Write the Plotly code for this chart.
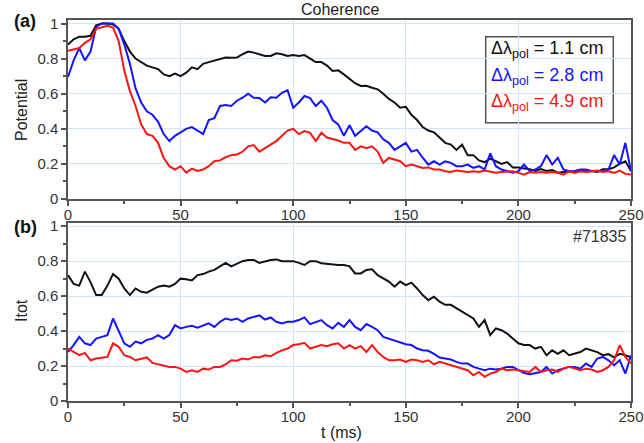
import plotly.graph_objects as go

# ---------------- data ----------------
t_ms = [i * 2.5 for i in range(101)]

pot_11 = [0.88, 0.91, 0.925, 0.925, 0.93, 0.99, 1.0, 1.0, 0.995, 0.97,
          0.90, 0.84, 0.80, 0.78, 0.76, 0.75, 0.74, 0.71, 0.70, 0.714,
          0.70, 0.72, 0.75, 0.74, 0.77, 0.78, 0.79, 0.80, 0.806, 0.805,
          0.806, 0.825, 0.84, 0.834, 0.825, 0.815, 0.815, 0.83, 0.825, 0.815,
          0.82, 0.815, 0.82, 0.80, 0.78, 0.78, 0.76, 0.73, 0.733, 0.71,
          0.685, 0.66, 0.644, 0.645, 0.634, 0.625, 0.60, 0.57, 0.55, 0.52,
          0.525, 0.48, 0.45, 0.41, 0.39, 0.38, 0.35, 0.32, 0.31, 0.28,
          0.31, 0.25, 0.25, 0.22, 0.21, 0.23, 0.215, 0.20, 0.21, 0.18,
          0.18, 0.175, 0.17, 0.16, 0.17, 0.16, 0.165, 0.15, 0.154, 0.158,
          0.154, 0.16, 0.158, 0.16, 0.154, 0.17, 0.17, 0.18, 0.20, 0.215,
          0.16]
pot_28 = [0.695, 0.79, 0.86, 0.79, 0.84, 0.98, 1.0, 1.0, 1.0, 0.97,
          0.88, 0.77, 0.63, 0.55, 0.50, 0.48, 0.44, 0.37, 0.33, 0.36,
          0.38, 0.40, 0.41, 0.39, 0.37, 0.45, 0.46, 0.53, 0.535, 0.53,
          0.56, 0.577, 0.60, 0.577, 0.575, 0.55, 0.58, 0.577, 0.605, 0.62,
          0.52, 0.55, 0.587, 0.575, 0.53, 0.56, 0.52, 0.45, 0.425, 0.36,
          0.42, 0.36, 0.39, 0.415, 0.39, 0.38, 0.34, 0.32, 0.28, 0.30,
          0.32, 0.27, 0.28, 0.235, 0.196, 0.215, 0.196, 0.215, 0.206, 0.187,
          0.187, 0.196, 0.177, 0.187, 0.168, 0.26, 0.187, 0.168, 0.158, 0.15,
          0.158, 0.196, 0.16, 0.168, 0.187, 0.25, 0.196, 0.235, 0.168, 0.158,
          0.16, 0.168, 0.168, 0.16, 0.158, 0.158, 0.168, 0.25, 0.196, 0.32,
          0.158]
pot_49 = [0.844, 0.85, 0.86, 0.89, 0.91, 0.97, 0.98, 0.987, 0.977, 0.90,
          0.73, 0.615, 0.53, 0.425, 0.37, 0.36, 0.32, 0.234, 0.187, 0.168,
          0.187, 0.15, 0.173, 0.16, 0.168, 0.187, 0.215, 0.22, 0.238, 0.25,
          0.253, 0.27, 0.30, 0.307, 0.27, 0.29, 0.31, 0.33, 0.36, 0.39,
          0.40, 0.37, 0.387, 0.377, 0.33, 0.377, 0.35, 0.343, 0.333, 0.32,
          0.32, 0.28, 0.30, 0.29, 0.30, 0.27, 0.206, 0.234, 0.225, 0.215,
          0.187, 0.196, 0.187, 0.177, 0.18, 0.168, 0.168, 0.158, 0.154, 0.162,
          0.158, 0.154, 0.158, 0.154, 0.162, 0.154, 0.149, 0.154, 0.154, 0.158,
          0.149, 0.139, 0.154, 0.149, 0.154, 0.149, 0.154, 0.149, 0.139, 0.158,
          0.149, 0.158, 0.154, 0.158, 0.162, 0.154, 0.158, 0.149, 0.162, 0.143,
          0.139]

itot_11 = [0.72, 0.67, 0.66, 0.74, 0.68, 0.606, 0.606, 0.66, 0.726, 0.70,
           0.644, 0.606, 0.644, 0.625, 0.62, 0.635, 0.654, 0.66, 0.654, 0.67,
           0.70, 0.696, 0.69, 0.72, 0.726, 0.74, 0.75, 0.77, 0.79, 0.77,
           0.784, 0.80, 0.807, 0.807, 0.79, 0.80, 0.807, 0.81, 0.80, 0.80,
           0.80, 0.79, 0.778, 0.80, 0.80, 0.788, 0.784, 0.778, 0.778, 0.778,
           0.77, 0.73, 0.73, 0.75, 0.753, 0.72, 0.70, 0.683, 0.654, 0.683,
           0.663, 0.677, 0.644, 0.606, 0.577, 0.597, 0.568, 0.55, 0.55, 0.53,
           0.51, 0.49, 0.472, 0.424, 0.463, 0.377, 0.415, 0.405, 0.386, 0.357,
           0.33, 0.32, 0.32, 0.30, 0.31, 0.262, 0.29, 0.27, 0.29, 0.262,
           0.27, 0.28, 0.30, 0.29, 0.28, 0.262, 0.268, 0.25, 0.27, 0.262,
           0.25]
itot_28 = [0.28, 0.32, 0.367, 0.33, 0.32, 0.357, 0.367, 0.377, 0.472, 0.405,
           0.33, 0.31, 0.34, 0.33, 0.35, 0.357, 0.377, 0.357, 0.377, 0.434,
           0.415, 0.424, 0.43, 0.42, 0.434, 0.444, 0.424, 0.453, 0.472, 0.463,
           0.472, 0.453, 0.472, 0.48, 0.49, 0.466, 0.478, 0.453, 0.444, 0.453,
           0.453, 0.463, 0.478, 0.44, 0.453, 0.463, 0.434, 0.415, 0.447, 0.424,
           0.463, 0.424, 0.405, 0.44, 0.424, 0.405, 0.367, 0.357, 0.348, 0.338,
           0.325, 0.32, 0.30, 0.29, 0.287, 0.27, 0.249, 0.243, 0.237, 0.224,
           0.214, 0.214, 0.195, 0.185, 0.176, 0.185, 0.18, 0.185, 0.195, 0.195,
           0.176, 0.16, 0.153, 0.16, 0.166, 0.195, 0.157, 0.176, 0.185, 0.195,
           0.195, 0.185, 0.214, 0.195, 0.243, 0.252, 0.233, 0.205, 0.233, 0.157,
           0.262]
itot_49 = [0.30, 0.28, 0.262, 0.275, 0.233, 0.243, 0.249, 0.252, 0.33, 0.31,
           0.262, 0.252, 0.233, 0.243, 0.249, 0.218, 0.21, 0.205, 0.195, 0.195,
           0.185, 0.166, 0.176, 0.166, 0.185, 0.18, 0.195, 0.195, 0.21, 0.233,
           0.23, 0.243, 0.237, 0.252, 0.249, 0.262, 0.256, 0.275, 0.29, 0.30,
           0.32, 0.325, 0.333, 0.30, 0.31, 0.32, 0.314, 0.325, 0.33, 0.30,
           0.32, 0.30, 0.314, 0.28, 0.32, 0.28, 0.252, 0.233, 0.233, 0.237,
           0.224, 0.237, 0.233, 0.224, 0.233, 0.21, 0.224, 0.214, 0.205, 0.195,
           0.185, 0.176, 0.147, 0.166, 0.138, 0.157, 0.166, 0.185, 0.176, 0.18,
           0.176, 0.172, 0.166, 0.195, 0.166, 0.176, 0.18, 0.166, 0.185, 0.195,
           0.185, 0.176, 0.185, 0.18, 0.166, 0.176, 0.195, 0.233, 0.32, 0.252,
           0.214]

series_labels = ["Δλ<sub>pol</sub> = 1.1 cm", "Δλ<sub>pol</sub> = 2.8 cm", "Δλ<sub>pol</sub> = 4.9 cm"]
series_colors = ["#111111", "#1414ff", "#ff1414"]
x_ticks = [0, 50, 100, 150, 200, 250]
y_ticks = [0, 0.2, 0.4, 0.6, 0.8, 1]
y_tick_text = ["0", "0.2", "0.4", "0.6", "0.8", "1"]

# ---------------- figure ----------------
W, H = 644, 443
ML, MR, MT, MB = 68, 13, 20, 42
PW, PH = W - ML - MR, H - MT - MB


def px(x):
    return (x - ML) / PW


def py(y):
    return (H - MB - y) / PH


FONT = "Liberation Sans, Arial, sans-serif"
fig = go.Figure()

for ys, name, col in zip([pot_11, pot_28, pot_49], series_labels, series_colors):
    fig.add_trace(go.Scatter(x=t_ms, y=ys, mode="lines", name=name, showlegend=False,
                             line=dict(color=col, width=2), xaxis="x", yaxis="y"))
for ys, name, col in zip([itot_11, itot_28, itot_49], series_labels, series_colors):
    fig.add_trace(go.Scatter(x=t_ms, y=ys, mode="lines", name=name, showlegend=False,
                             line=dict(color=col, width=2), xaxis="x2", yaxis="y2"))

grid_col = "#d4e4f9"
axis_common = dict(showline=True, mirror=True, linecolor="#555555", linewidth=1.5,
                   ticks="outside", ticklen=5, tickwidth=1.5, tickcolor="#555555",
                   showgrid=True, gridcolor=grid_col, gridwidth=1, zeroline=False,
                   automargin=False,
                   tickfont=dict(family=FONT, size=15, color="#333333"))
xa = dict(axis_common, range=[0, 250], tickvals=x_ticks, ticklabelstandoff=-4,
          minor=dict(dtick=25, tick0=0, ticklen=3, tickwidth=1.5, tickcolor="#555555", showgrid=False))
ya = dict(axis_common, range=[0, 1.02], tickvals=y_ticks, ticktext=y_tick_text,
          minor=dict(dtick=0.1, tick0=0, ticklen=3, tickwidth=1.5, tickcolor="#555555", showgrid=False))

top_dom = [py(199), 1.0]
bot_dom = [0.0, py(222.7)]

fig.update_layout(
    width=W, height=H,
    margin=dict(l=ML, r=MR, t=MT, b=MB, pad=0, autoexpand=False),
    paper_bgcolor="white", plot_bgcolor="white",
    font=dict(family=FONT, color="#222222"),
    xaxis=dict(xa, anchor="y"),
    yaxis=dict(ya, domain=top_dom, anchor="x"),
    xaxis2=dict(xa, anchor="y2"),
    yaxis2=dict(ya, domain=bot_dom, anchor="x2"),
    showlegend=False,
)

ann = []
ann.append(dict(text="Coherence", x=px(339.5), y=py(10), xanchor="center", yanchor="middle",
                font=dict(size=16, color="#222222")))
ann.append(dict(text="<b>(a)</b>", x=px(25), y=py(21), xanchor="center", yanchor="middle",
                font=dict(size=18, color="#111111")))
ann.append(dict(text="<b>(b)</b>", x=px(25), y=py(227), xanchor="center", yanchor="middle",
                font=dict(size=18, color="#111111")))
ann.append(dict(text="Potential", x=px(21), y=py(110), xanchor="center", yanchor="middle",
                textangle=-90, font=dict(size=16, color="#222222")))
ann.append(dict(text="Itot", x=px(21), y=py(311), xanchor="center", yanchor="middle",
                textangle=-90, font=dict(size=16, color="#222222")))
ann.append(dict(text="t (ms)", x=px(341), y=py(432), xanchor="center", yanchor="middle",
                font=dict(size=16, color="#222222")))
ann.append(dict(text="#71835", x=px(628), y=py(237), xanchor="right", yanchor="middle",
                font=dict(size=16, color="#333333")))
for i, (lab, col) in enumerate(zip(series_labels, series_colors)):
    ann.append(dict(text=lab, x=px(489), y=py(50 + 26 * i), xanchor="left", yanchor="middle",
                    font=dict(size=18, color=col)))
for a in ann:
    a.update(xref="paper", yref="paper", showarrow=False)
fig.update_layout(annotations=ann)

fig.add_shape(type="rect", xref="paper", yref="paper",
              x0=px(485.7), x1=px(613.3), y0=py(122.7), y1=py(36.7),
              line=dict(color="#555555", width=1.5), fillcolor="white", layer="below")

fig.write_html("out.html")
